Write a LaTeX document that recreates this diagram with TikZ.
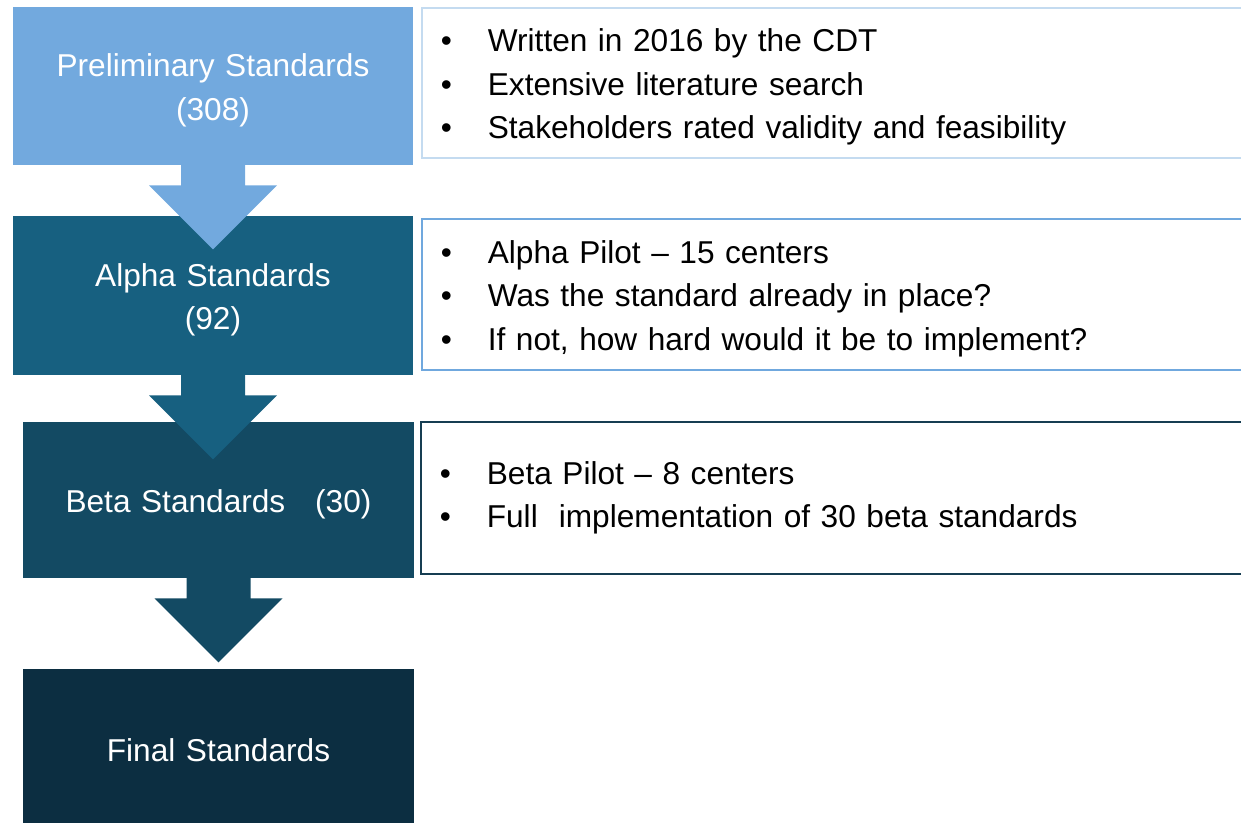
\documentclass[tikz,border=0pt]{standalone}
\usepackage{fontspec}
\setmainfont{Liberation Sans}
\usepackage{tikz}
\usetikzlibrary{calc}
\definecolor{prelimblue}{RGB}{114,169,222}
\definecolor{alphablue}{RGB}{23,96,128}
\definecolor{betablue}{RGB}{19,74,99}
\definecolor{finalblue}{RGB}{12,46,65}
\definecolor{prelimline}{RGB}{196,219,240}
\definecolor{alphaline}{RGB}{112,168,222}
\definecolor{betaline}{RGB}{22,62,82}
\newcommand{\bul}{\makebox[9.4mm][l]{\textbullet}}
\newcommand{\stagearrow}[2]{%
  \fill[#2] ($ (#1.south) + (-32,-2) $) -- ($ (#1.south) + (-32,20) $)
     -- ($ (#1.south) + (-64,20) $) -- ($ (#1.south) + (0,84) $)
     -- ($ (#1.south) + (64,20) $) -- ($ (#1.south) + (32,20) $)
     -- ($ (#1.south) + (32,-2) $) -- cycle;}
\tikzset{
   stage/.style={fill=#1, text=white, inner sep=0pt, align=center, text width=76mm,
                 font=\fontsize{18}{24.75}\selectfont},
   notes/.style={draw=#1, line width=1pt, fill=white, inner xsep=3.8mm, inner ysep=0pt,
                 align=left, anchor=west, minimum width=165.8mm, text width=158.2mm,
                 font=\fontsize{18}{24.75}\selectfont},
   drop/.style={execute at begin node={\rule{0pt}{17.7pt}}}
}
\begin{document}
\begin{tikzpicture}[x=0.02cm,y=-0.02cm]
\useasboundingbox (0,0) rectangle (1241,822);
% stages
\node[stage=prelimblue,drop,minimum width=80mm,minimum height=31.6mm] (prelim) at (213,86)
   {Preliminary Standards\\(308)};
\node[stage=alphablue,drop,minimum width=80mm,minimum height=31.8mm] (alpha) at ($ (prelim) + (0,209.5) $)
   {Alpha Standards\\(92)};
\node[stage=betablue,drop,minimum width=78.2mm,minimum height=31.2mm] (beta) at ($ (alpha) + (5.5,204.5) $)
   {Beta Standards\hspace{17pt}(30)};
\node[stage=finalblue,minimum width=78.2mm,minimum height=32.4mm] (final) at ($ (beta) + (0,250) $)
   {Final Standards};
%
\node[notes=prelimline,drop,minimum height=30mm] (prelimnotes) at (421,83)
   {\bul Written in 2016 by the CDT\\
    \bul Extensive literature search\\
    \bul Stakeholders rated validity and feasibility};
\node[notes=alphaline,drop,minimum height=30.2mm] (alphanotes) at (421,294.5)
   {\bul Alpha Pilot – 15 centers\\
    \bul Was the standard already in place?\\
    \bul If not, how hard would it be to implement?};
\node[notes=betaline,minimum height=30.4mm] (betanotes) at (420,498)
   {\bul Beta Pilot – 8 centers\\
    \bul Full\ \ implementation of 30 beta standards};
% arrows
\stagearrow{prelim}{prelimblue}
\stagearrow{alpha}{alphablue}
\stagearrow{beta}{betablue}
\end{tikzpicture}
\end{document}
